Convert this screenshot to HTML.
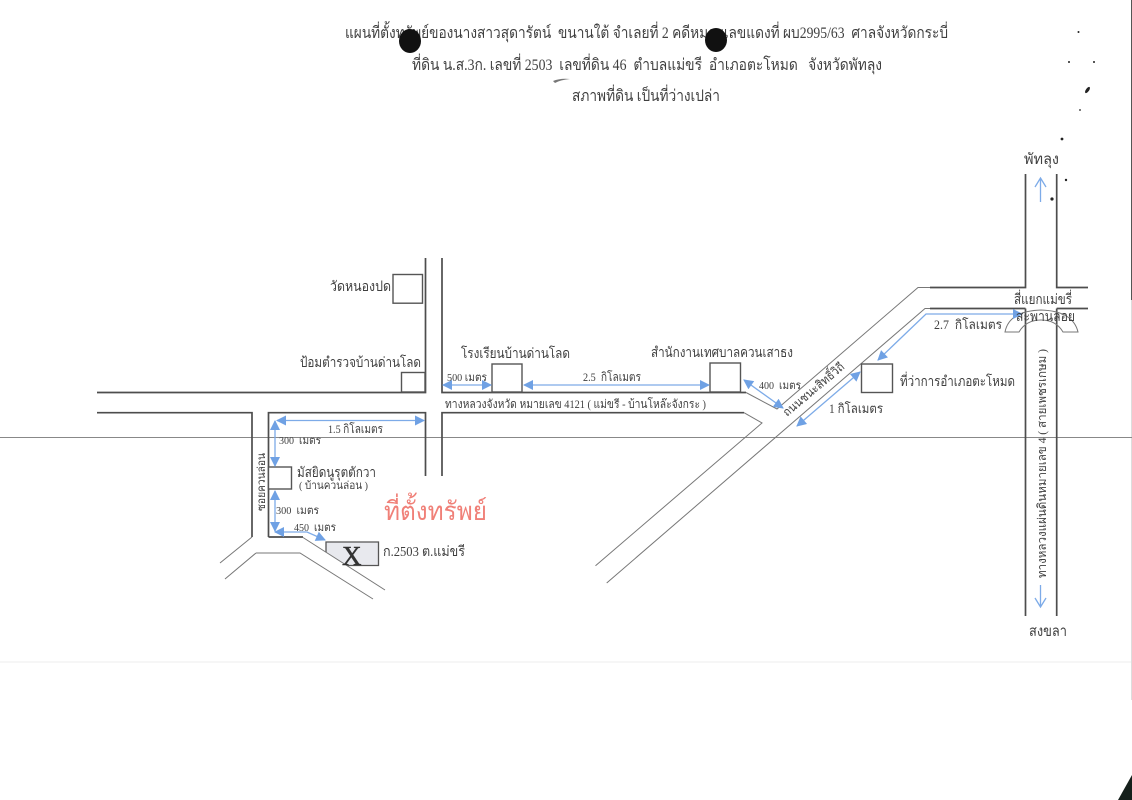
<!DOCTYPE html>
<html><head><meta charset="utf-8"><style>
html,body{margin:0;padding:0;background:#fff;width:1132px;height:800px;overflow:hidden}
svg{display:block}
text{font-family:"Liberation Serif","Noto Serif CJK SC",serif;fill:#3f3f3f;font-size:14px;white-space:pre}
.r{stroke:#4d4d4d;stroke-width:1.7;fill:none}
.t{stroke:#777;stroke-width:1;fill:none}
.a{stroke:#7dabe8;stroke-width:1.3;fill:none}
</style></head><body>
<svg width="1132" height="800" viewBox="0 0 1132 800" xmlns="http://www.w3.org/2000/svg">
<defs>
<marker id="h" viewBox="0 0 10 10" refX="9" refY="5" markerWidth="11" markerHeight="10" markerUnits="userSpaceOnUse" orient="auto-start-reverse"><path d="M0 0L10 5L0 10Z" fill="#6fa1e4"/></marker>
</defs>
<rect width="1132" height="800" fill="#fff"/>
<line x1="0" y1="662" x2="1132" y2="662" stroke="#ececec"/>
<line x1="1131.5" y1="0" x2="1131.5" y2="300" stroke="#555"/>
<line x1="1131.5" y1="300" x2="1131.5" y2="700" stroke="#ddd"/>
<polygon points="1118,800 1132,775 1132,800" fill="#15201c"/>

<!-- scanned line -->
<line x1="0" y1="437.5" x2="1132" y2="437.5" stroke="#888" stroke-width="1"/>

<!-- X parcel -->
<path d="M326 552.2V542H378.5V565.5H347Z" fill="#e8e9ee"/>
<path d="M326 552.2V542H378.5V565.5H347" fill="none" stroke="#555" stroke-width="1.3"/>

<!-- roads -->
<path class="r" d="M97 392.5H425.5V258M442 258V392.5H746"/>
<path class="r" d="M97 412.7H252V537M268.5 537V412.7H425.5V476M442 476V412.7H744"/>
<path class="t" d="M746 392.5L777 409L918 287.5H930"/>
<path class="t" d="M744 412.7L762 423L595.5 565.7"/>
<path class="t" d="M606.7 583L925 308.5H932"/>
<path class="r" d="M930 287.5H1025.5V174M1056.7 174V287.5H1088M930 308.5H1025.5M1056.7 308.5H1088"/>
<path class="r" d="M1025.5 308.5V616M1056.7 308.5V616"/>
<path class="t" d="M252 537L220 563M256 553L225 579M256 553H300L373 599"/>
<path class="r" d="M268.5 537H303" />
<path class="t" d="M303 537.5L385 590"/>

<!-- bridge -->
<path d="M1005 332Q1009 311 1041 310Q1073 311 1078 332H1063Q1056 320 1041 320Q1026 320 1019 332Z" fill="none" stroke="#777" stroke-width="1"/>

<!-- buildings -->
<g fill="#fff" stroke="#555" stroke-width="1.4">
<rect x="393" y="274.5" width="29.5" height="28.7"/>
<rect x="401.5" y="372.5" width="23.5" height="19.5"/>
<rect x="492" y="364" width="30" height="28"/>
<rect x="710" y="363" width="30.5" height="29"/>
<rect x="861.5" y="364" width="31" height="28.5"/>
<rect x="268.5" y="467" width="23" height="22"/>
</g>

<!-- arrows -->
<g class="a">
<line x1="277" y1="420.5" x2="424" y2="420.5" marker-start="url(#h)" marker-end="url(#h)"/>
<line x1="275" y1="421" x2="275" y2="466" marker-start="url(#h)" marker-end="url(#h)"/>
<line x1="275" y1="491" x2="275" y2="531" marker-start="url(#h)" marker-end="url(#h)"/>
<polyline points="275,532 307,532 325,540" marker-start="url(#h)" marker-end="url(#h)"/>
<line x1="443" y1="385" x2="491" y2="385" marker-start="url(#h)" marker-end="url(#h)"/>
<line x1="524" y1="385" x2="709" y2="385" marker-start="url(#h)" marker-end="url(#h)"/>
<line x1="744" y1="380" x2="783" y2="408" marker-start="url(#h)" marker-end="url(#h)"/>
<line x1="797" y1="426" x2="860" y2="372" marker-start="url(#h)" marker-end="url(#h)"/>
<polyline points="878,360 926,314 1022,314" marker-start="url(#h)" marker-end="url(#h)"/>
<path d="M1040.5 202V178M1035 187L1040.5 178L1046 187"/>
<path d="M1040.5 585V607M1035 598L1040.5 607L1046 598"/>
</g>

<!-- title -->
<text x="345" y="38" style="font-size:16px" textLength="603" lengthAdjust="spacingAndGlyphs">แผนที่ตั้งทรัพย์ของนางสาวสุดารัตน์  ขนานใต้ จำเลยที่ 2 คดีหมายเลขแดงที่ ผบ2995/63  ศาลจังหวัดกระบี่</text>
<text x="412" y="70" style="font-size:16px" textLength="470" lengthAdjust="spacingAndGlyphs">ที่ดิน น.ส.3ก. เลขที่ 2503  เลขที่ดิน 46  ตำบลแม่ขรี  อำเภอตะโหมด   จังหวัดพัทลุง</text>
<text x="572" y="101" style="font-size:16px" textLength="148" lengthAdjust="spacingAndGlyphs">สภาพที่ดิน เป็นที่ว่างเปล่า</text>

<!-- labels -->
<text x="1024" y="164" style="font-size:15px" textLength="35" lengthAdjust="spacingAndGlyphs">พัทลุง</text>
<text x="1029" y="636" style="font-size:15px" textLength="38" lengthAdjust="spacingAndGlyphs">สงขลา</text>
<text x="1014" y="304" style="font-size:14px" textLength="58" lengthAdjust="spacingAndGlyphs">สี่แยกแม่ขรี่</text>
<text x="1016" y="321" style="font-size:14px" textLength="59" lengthAdjust="spacingAndGlyphs">สะพานลอย</text>
<text x="934" y="329" style="font-size:13px" textLength="68" lengthAdjust="spacingAndGlyphs">2.7  กิโลเมตร</text>
<text x="900" y="386" style="font-size:14px" textLength="115" lengthAdjust="spacingAndGlyphs">ที่ว่าการอำเภอตะโหมด</text>
<text x="829" y="413" style="font-size:13px" textLength="54" lengthAdjust="spacingAndGlyphs">1 กิโลเมตร</text>
<text x="759" y="389" style="font-size:11px" textLength="42" lengthAdjust="spacingAndGlyphs">400  เมตร</text>
<text transform="translate(787,417) rotate(-40)" style="font-size:12px" textLength="76" lengthAdjust="spacingAndGlyphs">ถนนชนะสิทธิ์วิถี</text>
<text x="651" y="357" style="font-size:14px" textLength="142" lengthAdjust="spacingAndGlyphs">สำนักงานเทศบาลควนเสาธง</text>
<text x="461" y="358" style="font-size:14px" textLength="109" lengthAdjust="spacingAndGlyphs">โรงเรียนบ้านด่านโลด</text>
<text x="300" y="367" style="font-size:14px" textLength="121" lengthAdjust="spacingAndGlyphs">ป้อมตำรวจบ้านด่านโลด</text>
<text x="330" y="291" style="font-size:14px" textLength="61" lengthAdjust="spacingAndGlyphs">วัดหนองปด</text>
<text x="447" y="381" style="font-size:11px" textLength="40" lengthAdjust="spacingAndGlyphs">500 เมตร</text>
<text x="583" y="381" style="font-size:12px" textLength="58" lengthAdjust="spacingAndGlyphs">2.5  กิโลเมตร</text>
<text x="445" y="408" style="font-size:12px" textLength="261" lengthAdjust="spacingAndGlyphs">ทางหลวงจังหวัด หมายเลข 4121 ( แม่ขรี - บ้านโหล๊ะจังกระ )</text>
<text x="328" y="433" style="font-size:12px" textLength="55" lengthAdjust="spacingAndGlyphs">1.5 กิโลเมตร</text>
<text x="279" y="444" style="font-size:11px" textLength="42" lengthAdjust="spacingAndGlyphs">300  เมตร</text>
<text x="297" y="477" style="font-size:14px" textLength="79" lengthAdjust="spacingAndGlyphs">มัสยิดนูรุตตักวา</text>
<text x="299" y="489" style="font-size:11px" textLength="69" lengthAdjust="spacingAndGlyphs">( บ้านควนล่อน )</text>
<text x="276" y="514" style="font-size:11px" textLength="43" lengthAdjust="spacingAndGlyphs">300  เมตร</text>
<text x="294" y="531" style="font-size:11px" textLength="42" lengthAdjust="spacingAndGlyphs">450  เมตร</text>
<text x="384" y="520" style="font-size:26px;fill:#f08078" textLength="103" lengthAdjust="spacingAndGlyphs">ที่ตั้งทรัพย์</text>
<text x="383" y="556" style="font-size:14px" textLength="82" lengthAdjust="spacingAndGlyphs">ก.2503 ต.แม่ขรี</text>
<text x="342" y="565" style="font-size:27px;fill:#333;stroke:#333;stroke-width:.5">X</text>
<text transform="translate(265,511) rotate(-90)" style="font-size:11px" textLength="58" lengthAdjust="spacingAndGlyphs">ซอยควนล่อน</text>
<text transform="translate(1046,578) rotate(-90)" style="font-size:12px" textLength="229" lengthAdjust="spacingAndGlyphs">ทางหลวงแผ่นดินหมายเลข 4 ( สายเพชรเกษม )</text>

<!-- punch holes and specks -->
<ellipse cx="410" cy="41" rx="11" ry="12" fill="#111"/>
<ellipse cx="716" cy="40" rx="11" ry="12" fill="#111"/>
<path d="M553 81Q560 78 570 79Q560 80 555 83Z" fill="#777"/>
<g fill="#222">
<circle cx="1078.5" cy="32" r="1"/>
<circle cx="1069" cy="62" r="1"/>
<circle cx="1094" cy="62" r="1"/>
<ellipse cx="1087.5" cy="90" rx="1.6" ry="3.6" transform="rotate(35 1087.5 90)"/>
<circle cx="1080" cy="110" r="0.9"/>
<circle cx="1062" cy="139" r="1.4"/>
<circle cx="1066" cy="180" r="1.2"/>
<circle cx="1052" cy="199" r="1.6"/>
</g>
</svg>
</body></html>
